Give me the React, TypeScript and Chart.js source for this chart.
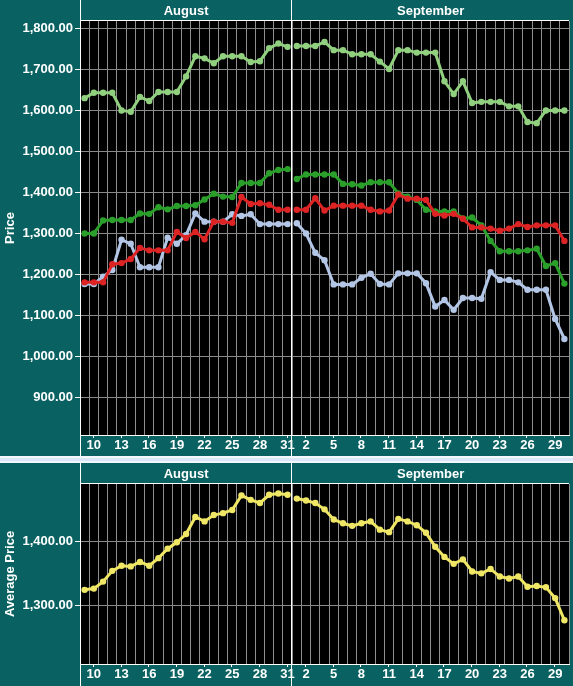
import { useEffect, useRef } from 'react';
import { Chart, registerables } from 'chart.js';

Chart.register(...registerables);

// ---------- data ----------
const dates = [
  'Aug 9', 'Aug 10', 'Aug 11', 'Aug 12', 'Aug 13', 'Aug 14', 'Aug 15', 'Aug 16', 'Aug 17', 'Aug 18',
  'Aug 19', 'Aug 20', 'Aug 21', 'Aug 22', 'Aug 23', 'Aug 24', 'Aug 25', 'Aug 26', 'Aug 27', 'Aug 28',
  'Aug 29', 'Aug 30', 'Aug 31',
  'Sep 1', 'Sep 2', 'Sep 3', 'Sep 4', 'Sep 5', 'Sep 6', 'Sep 7', 'Sep 8', 'Sep 9', 'Sep 10',
  'Sep 11', 'Sep 12', 'Sep 13', 'Sep 14', 'Sep 15', 'Sep 16', 'Sep 17', 'Sep 18', 'Sep 19', 'Sep 20',
  'Sep 21', 'Sep 22', 'Sep 23', 'Sep 24', 'Sep 25', 'Sep 26', 'Sep 27', 'Sep 28', 'Sep 29', 'Sep 30',
];

const monthNames: Record<string, string> = { Aug: 'August', Sep: 'September' };

const xTickDates = [
  'Aug 10', 'Aug 13', 'Aug 16', 'Aug 19', 'Aug 22', 'Aug 25', 'Aug 28', 'Aug 31',
  'Sep 2', 'Sep 5', 'Sep 8', 'Sep 11', 'Sep 14', 'Sep 17', 'Sep 20', 'Sep 23', 'Sep 26', 'Sep 29',
];

const priceTicks = [900, 1000, 1100, 1200, 1300, 1400, 1500, 1600, 1700, 1800];
const avgTicks = [1300, 1400];

const lightGreenSeries = [
  1630, 1643, 1643, 1643, 1600, 1597, 1633, 1623, 1645, 1645, 1645, 1683, 1732, 1727, 1715, 1732,
  1732, 1732, 1718, 1720, 1752, 1763, 1755,
  1757, 1757, 1757, 1767, 1747, 1747, 1737, 1737, 1737, 1719, 1701, 1747, 1747, 1741, 1741, 1741,
  1671, 1640, 1671, 1618, 1621, 1621, 1621, 1610, 1610, 1572, 1569, 1600, 1600, 1600,
];

const darkGreenSeries = [
  1300, 1300, 1332, 1333, 1333, 1333, 1349, 1348, 1364, 1359, 1367, 1367, 1369, 1383, 1397, 1390,
  1389, 1423, 1423, 1423, 1447, 1455, 1457,
  1433, 1444, 1444, 1444, 1444, 1421, 1420, 1417, 1425, 1425, 1425, 1398, 1390, 1382, 1358, 1354,
  1354, 1354, 1337, 1339, 1320, 1282, 1257, 1257, 1257, 1259, 1263, 1221, 1228, 1178,
];

const redSeries = [
  1181, 1181, 1181, 1225, 1228, 1238, 1265, 1259, 1259, 1259, 1304, 1289, 1304, 1286, 1329, 1329,
  1326, 1389, 1372, 1374, 1370, 1358, 1358,
  1358, 1358, 1386, 1356, 1368, 1368, 1368, 1368, 1358, 1354, 1356, 1395, 1385, 1385, 1382, 1348,
  1344, 1348, 1336, 1315, 1315, 1312, 1307, 1312, 1323, 1316, 1320, 1320, 1320, 1282,
];

const lightBlueSeries = [
  1177, 1177, 1195, 1211, 1285, 1275, 1218, 1218, 1218, 1290, 1275, 1296, 1349, 1329, 1329, 1329,
  1347, 1343, 1347, 1323, 1323, 1323, 1323,
  1325, 1300, 1253, 1235, 1176, 1176, 1176, 1192, 1202, 1177, 1176, 1203, 1203, 1203, 1179, 1122,
  1138, 1114, 1143, 1143, 1141, 1206, 1187, 1187, 1181, 1163, 1163, 1163, 1092, 1043,
];

const averageSeries = [
  1324, 1326, 1337, 1354, 1362, 1361, 1368, 1362, 1374, 1389, 1399, 1412, 1439, 1432, 1442, 1445,
  1450, 1473, 1466, 1461, 1474, 1476, 1474,
  1468, 1465, 1461, 1451, 1435, 1429, 1425, 1429, 1432, 1419, 1415, 1436, 1432, 1426, 1414, 1392,
  1376, 1365, 1372, 1353, 1350, 1357, 1345, 1342, 1345, 1329, 1330, 1328, 1311, 1276,
];

// ---------- styling ----------
const TEAL = '#0a6161';
const GRID_V = '#8e8e8e';
const GRID_H = '#8a8a8a';
const FONT_FAMILY = "'Liberation Sans', Arial, Helvetica, sans-serif";
const WIDTH = 573;

const monthOf = (d: string) => d.split(' ')[0];
const lastIndexOfFirstMonth = dates.findIndex((d, i) => i > 0 && monthOf(d) !== monthOf(dates[i - 1])) - 1;

function lineDataset(label: string, data: number[], color: string) {
  return {
    label,
    data,
    borderColor: color,
    backgroundColor: color,
    borderWidth: 3,
    pointRadius: 3.2,
    pointBorderWidth: 0,
    pointBackgroundColor: color,
    tension: 0,
    segment: {
      borderColor: (ctx: any) => (ctx.p0DataIndex === lastIndexOfFirstMonth ? 'rgba(0,0,0,0)' : color),
    },
  };
}

const panelPlugin = {
  id: 'panelDecor',
  beforeDraw(chart: any) {
    const { ctx, chartArea: a, width, height } = chart;
    ctx.save();
    ctx.fillStyle = TEAL;
    ctx.fillRect(0, 0, width, height);
    ctx.fillStyle = '#000';
    ctx.fillRect(a.left, a.top, a.right - a.left, a.bottom - a.top);
    ctx.restore();
  },
  afterDraw(chart: any) {
    const { ctx, chartArea: a, height } = chart;
    const xs = chart.scales.x;
    const step = xs.getPixelForValue(1) - xs.getPixelForValue(0);
    const groups: { m: string; start: number; end: number }[] = [];
    dates.forEach((d, i) => {
      const m = monthOf(d);
      const g = groups[groups.length - 1];
      if (g && g.m === m) g.end = i;
      else groups.push({ m, start: i, end: i });
    });
    ctx.save();
    ctx.strokeStyle = '#ffffff';
    ctx.lineWidth = 1;
    const line = (x1: number, y1: number, x2: number, y2: number) => {
      ctx.beginPath();
      ctx.moveTo(x1, y1);
      ctx.lineTo(x2, y2);
      ctx.stroke();
    };
    // header bottom line
    line(a.left, Math.round(a.top) - 0.5, a.right, Math.round(a.top) - 0.5);
    // left border full height
    line(Math.round(a.left) + 0.5, 0, Math.round(a.left) + 0.5, height);
    ctx.fillStyle = '#ffffff';
    ctx.font = `bold 13px ${FONT_FAMILY}`;
    ctx.textAlign = 'center';
    ctx.textBaseline = 'middle';
    groups.forEach((g, gi) => {
      const x0 = xs.getPixelForValue(g.start) - step / 2;
      const x1 = xs.getPixelForValue(g.end) + step / 2;
      ctx.fillText(monthNames[g.m], (x0 + x1) / 2, a.top / 2 + 0.5);
      if (gi < groups.length - 1) {
        const sx = Math.round(x1) - 0.5;
        line(sx, 0, sx, height);
      }
    });
    // x tick marks
    dates.forEach((d, i) => {
      if (xTickDates.includes(d)) {
        const x = Math.round(xs.getPixelForValue(i)) - 0.5;
        line(x, a.bottom, x, a.bottom + 3);
      }
    });
    ctx.restore();
  },
};

type PanelProps = {
  height: number;
  axisHeight: number;
  datasets: any[];
  yMin: number;
  yMax: number;
  yTicks: number[];
  title: string;
};

function PanelChart({ height, axisHeight, datasets, yMin, yMax, yTicks, title }: PanelProps) {
  const ref = useRef<HTMLCanvasElement>(null);
  useEffect(() => {
    const font = { family: FONT_FAMILY, size: 13, weight: 'bold' as const };
    const chart = new Chart(ref.current as HTMLCanvasElement, {
      type: 'line',
      data: { labels: dates, datasets },
      options: {
        responsive: false,
        animation: false,
        events: [],
        layout: { padding: { top: 21, left: 0, right: 0, bottom: 0 } },
        plugins: { legend: { display: false }, tooltip: { enabled: false }, title: { display: false } },
        scales: {
          x: {
            type: 'category',
            offset: true,
            grid: { offset: true, color: GRID_V, lineWidth: 1, drawTicks: false },
            border: { display: true, color: '#ffffff', width: 1 },
            ticks: {
              autoSkip: false,
              maxRotation: 0,
              minRotation: 0,
              color: '#ffffff',
              font,
              padding: 3,
              callback: (_v: any, i: number) => (xTickDates.includes(dates[i]) ? dates[i].split(' ')[1] : ''),
            },
            afterFit: (s: any) => {
              s.height = axisHeight;
            },
          },
          y: {
            type: 'linear',
            min: yMin,
            max: yMax,
            afterBuildTicks: (s: any) => {
              s.ticks = yTicks.map((value) => ({ value }));
            },
            afterFit: (s: any) => {
              s.width = 80;
            },
            grid: { color: GRID_H, lineWidth: 1, tickColor: '#ffffff', tickLength: 5, drawTicks: true },
            border: { display: true, color: '#ffffff', width: 1 },
            ticks: {
              color: '#ffffff',
              font,
              padding: 2,
              callback: (v: any) =>
                Number(v).toLocaleString('en-US', { minimumFractionDigits: 2, maximumFractionDigits: 2 }),
            },
            title: { display: true, text: title, color: '#ffffff', font, padding: { top: 3, bottom: 0 } },
          },
        },
      },
      plugins: [panelPlugin],
    } as any);
    return () => chart.destroy();
  }, []);
  return <canvas ref={ref} width={WIDTH} height={height} style={{ display: 'block', width: WIDTH, height }} />;
}

export default function App() {
  const priceDatasets = [
    lineDataset('Red', redSeries, '#dd2323'),
    lineDataset('Dark green', darkGreenSeries, '#2aa02a'),
    lineDataset('Light green', lightGreenSeries, '#90d07e'),
    lineDataset('Light blue', lightBlueSeries, '#b3c6e6'),
  ];
  const avgDatasets = [lineDataset('Average', averageSeries, '#efe765')];
  return (
    <div style={{ position: 'absolute', left: 0, top: 0, width: WIDTH, margin: 0 }}>
      <PanelChart
        height={456}
        axisHeight={21}
        datasets={priceDatasets}
        yMin={809}
        yMax={1818}
        yTicks={priceTicks}
        title="Price"
      />
      <div
        style={{
          height: 3,
          background: '#dae7f6',
          borderTop: '2px solid #f4f8fc',
          borderBottom: '2px solid #f4f8fc',
        }}
      />
      <PanelChart
        height={223}
        axisHeight={22}
        datasets={avgDatasets}
        yMin={1207}
        yMax={1491}
        yTicks={avgTicks}
        title="Average Price"
      />
    </div>
  );
}
